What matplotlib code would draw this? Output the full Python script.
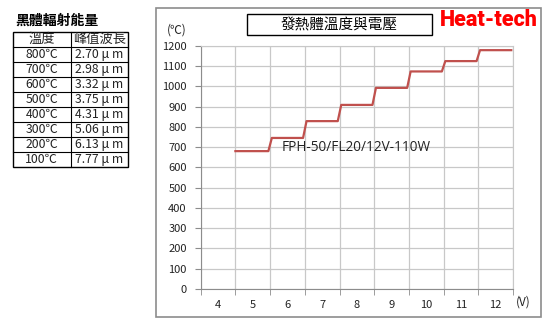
import matplotlib.pyplot as plt
from matplotlib.patches import Rectangle

plt.rcParams['font.family'] = ['Noto Sans CJK TC', 'DejaVu Sans']

# data
voltages = [4, 5, 6, 7, 8, 9, 10, 11, 12]
heater_v = [5, 6, 7, 8, 9, 10, 11, 12]
heater_temp = [680, 745, 828, 908, 992, 1073, 1124, 1178]
table_temp = ["800℃", "700℃", "600℃", "500℃", "400℃", "300℃", "200℃", "100℃"]
table_wave = ["2.70", "2.98", "3.32", "3.75", "4.31", "5.06", "6.13", "7.77"]

W, H = 550, 326
fig = plt.figure(figsize=(5.5, 3.26), dpi=100)

def fx(px):
    return px / W

def fy(py):
    return 1 - py / H

# outer chart frame
fig.patches.append(Rectangle((fx(156), fy(317)), fx(541) - fx(156), fy(8) - fy(317),
                             transform=fig.transFigure, fill=False,
                             edgecolor='#8c8c8c', linewidth=1.2))

ax = fig.add_axes([fx(200.7), fy(289), fx(513) - fx(200.7), fy(45.7) - fy(289)])

# build the step line from the levels
ramp = 0.05
xs, ys = [], []
for i, (v, t) in enumerate(zip(heater_v, heater_temp)):
    start = v - 0.5 + (ramp if i > 0 else 0)
    end = v + 0.5 - ramp
    xs += [start, end]
    ys += [t, t]
ax.plot(xs, ys, color='#c0504d', linewidth=1.6, solid_joinstyle='round')

ax.set_xlim(3.5, 12.5)
ax.set_ylim(0, 1200)
ax.set_xticks(voltages)
ax.set_xticklabels([str(v) for v in voltages])
ax.set_xticks([v + 0.5 for v in [3] + voltages], minor=True)
ax.set_yticks(range(0, 1201, 100))
ax.tick_params(axis='x', which='major', length=0, pad=8, labelsize=8, colors='#222222')
ax.tick_params(axis='x', which='minor', length=4, color='#8c8c8c')
ax.tick_params(axis='y', length=4, color='#8c8c8c', pad=6, labelsize=8, labelcolor='#222222')
ax.grid(True, axis='y', color='#c8c8c8', linewidth=0.9)
ax.grid(True, axis='x', which='minor', color='#c8c8c8', linewidth=0.9)
for s in ['top', 'right']:
    ax.spines[s].set_color('#c8c8c8')
for s in ['left', 'bottom']:
    ax.spines[s].set_color('#8c8c8c')

ax.text(5.84, 700, "FPH-50/FL20/12V-110W", fontsize=9.8, family=['Open Sans', 'DejaVu Sans'],
        color='#222222', va='center', ha='left')

fig.text(fx(177), fy(30), "(℃)", fontsize=8.5, ha='center', va='center', color='#222222')
fig.text(fx(523), fy(302), "(V)", fontsize=8.5, ha='center', va='center', color='#222222')

# chart title box
fig.patches.append(Rectangle((fx(247), fy(35.3)), fx(432) - fx(247), fy(14.3) - fy(35.3),
                             transform=fig.transFigure, facecolor='white',
                             edgecolor='black', linewidth=1.0))
fig.text(fx(339.5), fy(25), "發熱體溫度與電壓", fontsize=10.5, ha='center', va='center')

fig.text(fx(489), fy(19.5), "Heat-tech", fontsize=15.5, fontweight='heavy', color='#ff0000',
         family=['Roboto', 'DejaVu Sans'], ha='center', va='center')

# left table
fig.text(fx(15), fy(20.5), "黑體輻射能量", fontsize=10, fontweight='bold', ha='left', va='center')
left, mid, right = 12.7, 70.7, 128
top, row_h = 31.7, 15
n_rows = len(table_temp) + 1
fig.patches.append(Rectangle((fx(left), fy(top + row_h * n_rows)), fx(right) - fx(left),
                             fy(top) - fy(top + row_h * n_rows),
                             transform=fig.transFigure, fill=False, edgecolor='black', linewidth=1.0))
for r in range(1, n_rows):
    yy = fy(top + row_h * r)
    fig.add_artist(plt.Line2D([fx(left), fx(right)], [yy, yy], transform=fig.transFigure,
                              color='black', linewidth=0.8))
fig.add_artist(plt.Line2D([fx(mid), fx(mid)], [fy(top), fy(top + row_h * n_rows)],
                          transform=fig.transFigure, color='black', linewidth=0.8))
cells = [("溫度", "峰值波長")] + [(t, w + " μ m") for t, w in zip(table_temp, table_wave)]
for r, (a, b) in enumerate(cells):
    yc = fy(top + row_h * (r + 0.5))
    size = 9.5 if r == 0 else 8.8
    fig.text(fx((left + mid) / 2), yc, a, fontsize=size, ha='center', va='center', color='#222222')
    fig.text(fx((mid + right) / 2), yc, b, fontsize=size, ha='center', va='center', color='#222222')

fig.savefig("out.png", dpi=100)
